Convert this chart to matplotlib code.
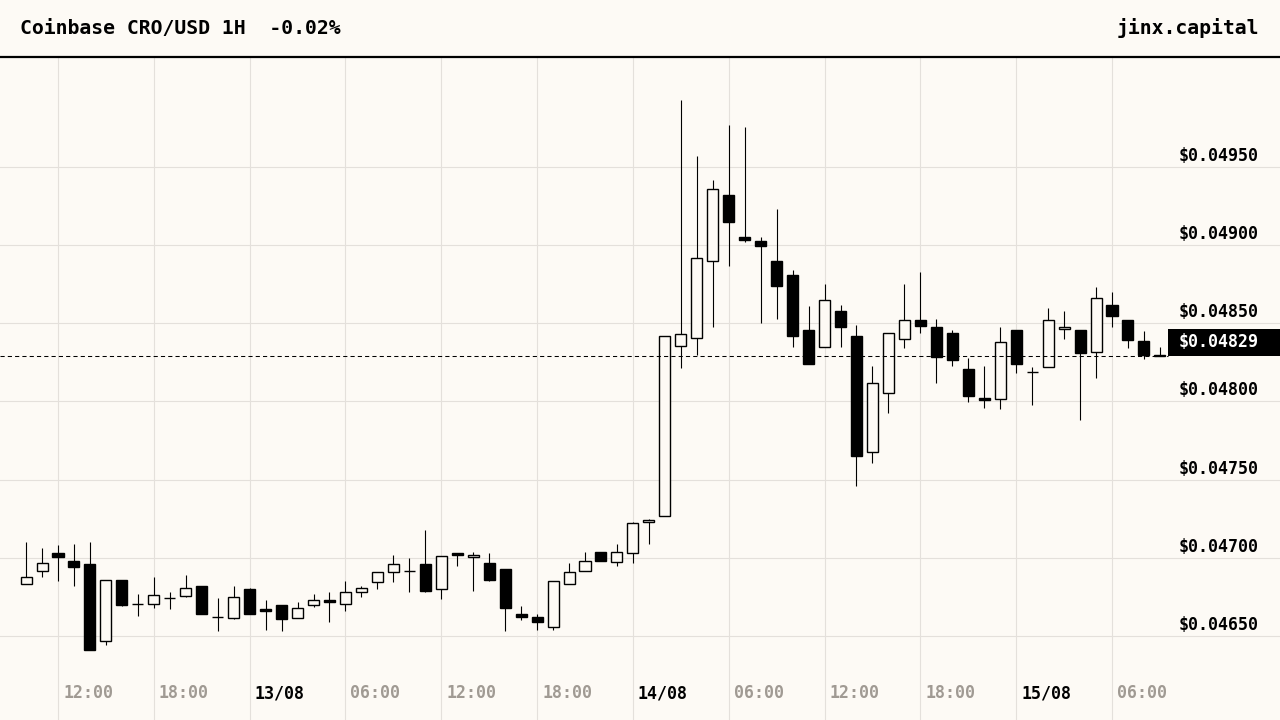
import matplotlib
matplotlib.use("Agg")
import matplotlib.pyplot as plt
from matplotlib.patches import Rectangle
from matplotlib.lines import Line2D
import matplotlib.transforms as mtransforms

# ---------------- data (hourly candles) ----------------
opens = [0.046830, 0.046914, 0.047029, 0.046978, 0.046960, 0.046466, 0.046856, 0.046706,
         0.046703, 0.046744, 0.046754, 0.046820, 0.046624, 0.046613, 0.046800, 0.046673,
         0.046698, 0.046613, 0.046696, 0.046730, 0.046703, 0.046779, 0.046843, 0.046907,
         0.046918, 0.046958, 0.046799, 0.047029, 0.047003, 0.046965, 0.046926, 0.046639,
         0.046620, 0.046556, 0.046830, 0.046914, 0.047035, 0.046971, 0.047029, 0.047227,
         0.047265, 0.048351, 0.048407, 0.048899, 0.049319, 0.049051, 0.049025, 0.048897,
         0.048808, 0.048456, 0.048346, 0.048578, 0.048418, 0.047674, 0.048051, 0.048401,
         0.048518, 0.048473, 0.048437, 0.048207, 0.048021, 0.048013, 0.048454, 0.048187,
         0.048222, 0.048461, 0.048454, 0.048314, 0.048616, 0.048518, 0.048386, 0.048298]
highs = [0.047101, 0.047063, 0.047082, 0.047088, 0.047101, 0.046856, 0.046856, 0.046768,
         0.046877, 0.046781, 0.046890, 0.046820, 0.046743, 0.046820, 0.046805, 0.046730,
         0.046698, 0.046717, 0.046768, 0.046781, 0.046852, 0.046818, 0.046907, 0.047018,
         0.046997, 0.047178, 0.047013, 0.047029, 0.047035, 0.047031, 0.046926, 0.046692,
         0.046641, 0.046850, 0.046967, 0.047037, 0.047035, 0.047088, 0.047227, 0.047246,
         0.048416, 0.049926, 0.049568, 0.049415, 0.049767, 0.049752, 0.049053, 0.049230,
         0.048840, 0.048610, 0.048750, 0.048616, 0.048488, 0.048226, 0.048435, 0.048750,
         0.048827, 0.048526, 0.048456, 0.048279, 0.048226, 0.048475, 0.048454, 0.048218,
         0.048597, 0.048578, 0.048454, 0.048731, 0.048699, 0.048518, 0.048450, 0.048347]
lows = [0.046830, 0.046879, 0.046854, 0.046822, 0.046412, 0.046444, 0.046694, 0.046630,
        0.046681, 0.046675, 0.046747, 0.046643, 0.046534, 0.046607, 0.046643, 0.046540,
        0.046534, 0.046613, 0.046683, 0.046591, 0.046662, 0.046751, 0.046802, 0.046843,
        0.046783, 0.046783, 0.046735, 0.046949, 0.046790, 0.046854, 0.046534, 0.046604,
        0.046540, 0.046536, 0.046830, 0.046914, 0.046981, 0.046949, 0.046969, 0.047090,
        0.047265, 0.048210, 0.048296, 0.048477, 0.048867, 0.049021, 0.048503, 0.048526,
        0.048349, 0.048241, 0.048346, 0.048349, 0.047461, 0.047608, 0.047927, 0.048343,
        0.048439, 0.048119, 0.048228, 0.047998, 0.047959, 0.047953, 0.048183, 0.047979,
        0.048222, 0.048401, 0.047883, 0.048151, 0.048477, 0.048343, 0.048273, 0.048290]
closes = [0.046875, 0.046965, 0.047003, 0.046943, 0.046412, 0.046856, 0.046700, 0.046704,
          0.046764, 0.046742, 0.046805, 0.046643, 0.046622, 0.046747, 0.046643, 0.046658,
          0.046611, 0.046677, 0.046730, 0.046715, 0.046779, 0.046805, 0.046907, 0.046958,
          0.046916, 0.046790, 0.047009, 0.047020, 0.047016, 0.046860, 0.046681, 0.046623,
          0.046591, 0.046850, 0.046907, 0.046978, 0.046981, 0.047035, 0.047220, 0.047240,
          0.048416, 0.048429, 0.048914, 0.049356, 0.049148, 0.049033, 0.048995, 0.048739,
          0.048420, 0.048241, 0.048646, 0.048477, 0.047653, 0.048115, 0.048435, 0.048518,
          0.048484, 0.048285, 0.048266, 0.048036, 0.048007, 0.048378, 0.048241, 0.048185,
          0.048518, 0.048473, 0.048311, 0.048659, 0.048548, 0.048394, 0.048298, 0.048290]

price_levels = [0.0465, 0.0470, 0.0475, 0.0480, 0.0485, 0.0490, 0.0495]
time_grid_idx = [2, 8, 14, 20, 26, 32, 38, 44, 50, 56, 62, 68]
time_labels = ["12:00", "18:00", "13/08", "06:00", "12:00", "18:00",
               "14/08", "06:00", "12:00", "18:00", "15/08", "06:00"]
title_text = "Coinbase CRO/USD 1H  -0.02%"
brand_text = "jinx.capital"

# ---------------- style ----------------
BG = "#fdfaf5"
GRID = "#e4e0db"
MUTED = "#a09a93"
MONO = ["DejaVu Sans Mono"]

W, H = 1280, 720
HEADER = 57
fig = plt.figure(figsize=(W / 100, H / 100), dpi=100, facecolor=BG)
ax = fig.add_axes([0, 0, 1, (H - HEADER) / H])
ax.set_facecolor(BG)
ax.set_xlim(-1.632, 78.52)
ax.set_ylim(0.045963, 0.050201)
for s in ax.spines.values():
    s.set_visible(False)
ax.set_xticks([])
ax.set_yticks([])

# grid
for p in price_levels:
    ax.axhline(p, color=GRID, lw=0.8, zorder=0)
for gi in time_grid_idx:
    ax.axvline(gi, color=GRID, lw=0.8, zorder=0)

# candles
body_w = 0.69
for i, (o, h, l, c) in enumerate(zip(opens, highs, lows, closes)):
    ax.vlines(i, l, h, color="black", lw=0.8, zorder=2)
    up = c >= o
    ax.add_patch(Rectangle((i - body_w / 2, min(o, c)), body_w, abs(c - o),
                           facecolor=BG if up else "black", edgecolor="black",
                           lw=1.0, zorder=3))

# y labels
xb = mtransforms.blended_transform_factory(ax.transAxes, ax.transData)
for p in price_levels:
    ax.annotate(f"${p:.5f}", xy=(1259 / W, p), xycoords=xb,
                xytext=(0, 11), textcoords="offset pixels",
                ha="right", va="center", fontsize=12, fontweight="bold",
                family=MONO, color="black", zorder=5)

# x labels
xt = mtransforms.blended_transform_factory(ax.transData, ax.transAxes)
for gi, lab in zip(time_grid_idx, time_labels):
    is_date = "/" in lab
    ax.annotate(lab, xy=(gi, 27 / (H - HEADER)),
                xycoords=xt, xytext=(30, 0), textcoords="offset pixels",
                ha="center", va="center", fontsize=12, fontweight="bold",
                family=MONO, color="black" if is_date else MUTED, zorder=5)

# current price line + tag
last = closes[-1]
ax.plot([0, 1168 / W], [last, last], transform=xb, color="black",
        lw=0.75, dashes=(4, 3), zorder=4)
yr = ax.get_ylim()[1] - ax.get_ylim()[0]
box_h = 27 / (H - HEADER) * yr
ax.add_patch(Rectangle((1168 / W, last), 1 - 1168 / W, box_h, transform=xb,
                       facecolor="black", edgecolor="none", zorder=6, clip_on=False))
ax.text(1259 / W, last + box_h / 2, f"${last:.5f}", transform=xb,
        ha="right", va="center", fontsize=12, fontweight="bold",
        family=MONO, color="white", zorder=7)

# header
fig.text(20 / W, 1 - 28 / H, title_text, ha="left", va="center", fontsize=14.2,
         fontweight="bold", family=MONO, color="black")
fig.text(1259 / W, 1 - 28 / H, brand_text, ha="right", va="center", fontsize=14.2,
         fontweight="bold", family=MONO, color="black")
fig.add_artist(Line2D([0, 1], [1 - HEADER / H] * 2, transform=fig.transFigure,
                      color="black", lw=1.6))

fig.savefig("out.png", dpi=100, facecolor=BG)
